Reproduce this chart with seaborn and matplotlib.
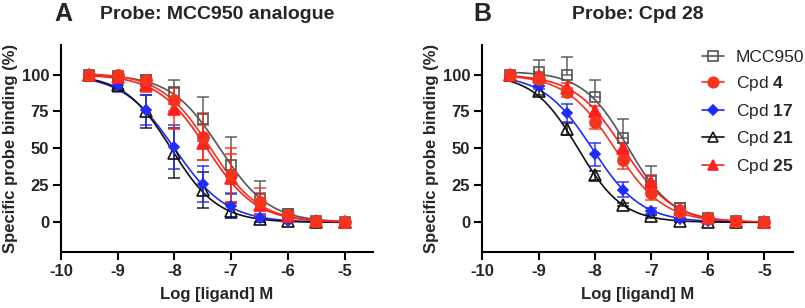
import numpy as np
import pandas as pd
import matplotlib
matplotlib.use("Agg")
import matplotlib.pyplot as plt
import seaborn as sns
from matplotlib.lines import Line2D

# concentrations (log M)
log_conc = [-9.5, -9.0, -8.5, -8.0, -7.5, -7.0, -6.5, -6.0, -5.5, -5.0]
compounds = ["MCC950", "Cpd 4", "Cpd 17", "Cpd 21", "Cpd 25"]
legend_labels = ["MCC950", r"Cpd $\mathbf{4}$", r"Cpd $\mathbf{17}$",
                 r"Cpd $\mathbf{21}$", r"Cpd $\mathbf{25}$"]

# Panel A - probe: MCC950 analogue (mean % binding, SD)
a_mcc950 = [100, 99, 96, 88, 70, 39, 16, 6, 1, 0]
a_cpd4 = [100, 100, 96, 83, 58, 32, 14, 5, 1, 0]
a_cpd17 = [100, 93, 76, 51, 26, 11, 3, 1, 0, 0]
a_cpd21 = [100, 93, 75, 47, 22, 8, 2, 1, 0, 0]
a_cpd25 = [100, 98, 93, 77, 54, 30, 12, 4, 1, 0]

a_mcc950_sd = [0, 2, 4, 8, 15, 19, 12, 3, 1, 0]
a_cpd4_sd = [0, 2, 3, 8, 16, 18, 9, 3, 1, 0]
a_cpd17_sd = [0, 5, 10, 15, 12, 8, 3, 1, 0, 0]
a_cpd21_sd = [0, 3, 11, 17, 12, 5, 2, 1, 0, 0]
a_cpd25_sd = [0, 2, 5, 14, 12, 16, 8, 3, 1, 0]

# Panel B - probe: Cpd 28
b_mcc950 = [100, 102, 100, 85, 57, 28, 10, 3, 1, 0]
b_cpd4 = [100, 97, 88, 68, 42, 20, 7, 3, 1, 0]
b_cpd17 = [100, 92, 74, 46, 22, 8, 2, 1, 0, 0]
b_cpd21 = [100, 89, 63, 32, 12, 4, 1, 0, 0, 0]
b_cpd25 = [100, 99, 91, 75, 50, 27, 9, 3, 1, 0]

b_mcc950_sd = [0, 8, 12, 11, 13, 10, 3, 1, 0, 0]
b_cpd4_sd = [0, 3, 3, 5, 6, 5, 2, 1, 0, 0]
b_cpd17_sd = [0, 2, 6, 8, 5, 2, 1, 0, 0, 0]
b_cpd21_sd = [0, 3, 4, 3, 1, 1, 1, 0, 0, 0]
b_cpd25_sd = [0, 2, 3, 4, 4, 5, 2, 1, 0, 0]

# fitted one-site curves (top, logIC50, Hill slope),
# in the order MCC950, Cpd 4, Cpd 17, Cpd 21, Cpd 25
a_top = [100, 101, 100, 100, 100]
a_logic50 = [-7.2, -7.37, -8.0, -8.06, -7.43]
a_hill = [1.0, 1.0, 0.95, 1.05, 1.0]
b_top = [102, 100, 100, 100, 100]
b_logic50 = [-7.42, -7.65, -8.05, -8.3, -7.5]
b_hill = [1.1, 1.0, 1.0, 1.1, 1.0]

colors = ["#555555", "#f7331d", "#1f2bff", "#111111", "#ff1f1f"]
markers = ["s", "o", "D", "^", "^"]
filled = [False, True, True, False, True]
msizes = [7.5, 8, 5.5, 8, 8]


def fit_curve(top, lc, h):
    xs = np.linspace(-9.5, -5.0, 200)
    ys = top / (1 + 10 ** ((xs - lc) * h))
    return pd.DataFrame({"logx": xs, "fit": ys})


def draw_panel(ax, means, sds, tops, logic50s, hills, one_sided_first=False):
    for i in range(len(compounds)):
        curve = fit_curve(tops[i], logic50s[i], hills[i])
        sns.lineplot(data=curve, x="logx", y="fit", color=colors[i], ax=ax,
                     linewidth=1.2, estimator=None, sort=False)
    order = [0, 3, 2, 4, 1]
    for i in order:
        m = np.array(means[i], dtype=float)
        s = np.array(sds[i], dtype=float)
        yerr = [np.zeros_like(s), s] if (one_sided_first and i == 0) else s
        ax.errorbar(log_conc, m, yerr=yerr, fmt="none", ecolor=colors[i],
                    elinewidth=1.2, capsize=4, capthick=1.2, alpha=0.85)
        ax.plot(log_conc, m, linestyle="none", marker=markers[i],
                markersize=msizes[i], color=colors[i],
                markerfacecolor=colors[i] if filled[i] else "none",
                markeredgewidth=1.2, zorder=3)
    ax.set_xlim(-10, -4.5)
    ax.set_ylim(-20, 120)
    ax.set_xticks([-10, -9, -8, -7, -6, -5])
    ax.set_xticklabels(["-10", "-9", "-8", "-7", "-6", "-5"])
    ax.set_yticks([0, 25, 50, 75, 100])
    ax.set_xlabel("Log [ligand] M", fontsize=12, fontweight="bold", labelpad=6)
    ax.set_ylabel("Specific probe binding (%)", fontsize=12, fontweight="bold",
                  labelpad=3)
    for lab in ax.get_xticklabels() + ax.get_yticklabels():
        lab.set_fontweight("bold")
    ax.tick_params(labelsize=12, width=1.5, length=5.5, color="black", pad=3)
    for sp in ["left", "bottom"]:
        ax.spines[sp].set_linewidth(1.5)
        ax.spines[sp].set_color("black")
    sns.despine(ax=ax)


sns.set_style("ticks")
plt.rcParams["font.family"] = ["Liberation Sans", "DejaVu Sans"]
plt.rcParams["mathtext.fontset"] = "custom"
plt.rcParams["mathtext.rm"] = "Liberation Sans"
plt.rcParams["mathtext.bf"] = "Liberation Sans:bold"

fig = plt.figure(figsize=(8.05, 3.08), dpi=100)
ax_a = fig.add_axes([0.0758, 0.182, 0.3876, 0.672])
ax_b = fig.add_axes([0.5988, 0.182, 0.3859, 0.672])

draw_panel(ax_a,
           [a_mcc950, a_cpd4, a_cpd17, a_cpd21, a_cpd25],
           [a_mcc950_sd, a_cpd4_sd, a_cpd17_sd, a_cpd21_sd, a_cpd25_sd],
           a_top, a_logic50, a_hill)
draw_panel(ax_b,
           [b_mcc950, b_cpd4, b_cpd17, b_cpd21, b_cpd25],
           [b_mcc950_sd, b_cpd4_sd, b_cpd17_sd, b_cpd21_sd, b_cpd25_sd],
           b_top, b_logic50, b_hill, one_sided_first=True)

ax_a.set_title("Probe: MCC950 analogue", fontsize=14, fontweight="bold", pad=19)
ax_b.set_title("Probe: Cpd 28", fontsize=14, fontweight="bold", pad=19)
fig.text(0.068, 0.955, "A", fontsize=18, fontweight="bold", ha="left", va="center")
fig.text(0.588, 0.955, "B", fontsize=18, fontweight="bold", ha="left", va="center")

handles = []
for i in range(len(compounds)):
    handles.append(Line2D([0], [0], color=colors[i], marker=markers[i],
                          markersize=msizes[i] - 0.5, linewidth=1.2,
                          markerfacecolor=colors[i] if filled[i] else "none",
                          markeredgewidth=1.2))
ax_b.legend(handles, legend_labels, loc="upper left",
            bbox_to_anchor=(0.708, 0.975), frameon=False, fontsize=12.5,
            handlelength=1.25, handletextpad=0.7, labelspacing=0.5,
            borderpad=0, borderaxespad=0)

fig.savefig("out.png", dpi=100)
